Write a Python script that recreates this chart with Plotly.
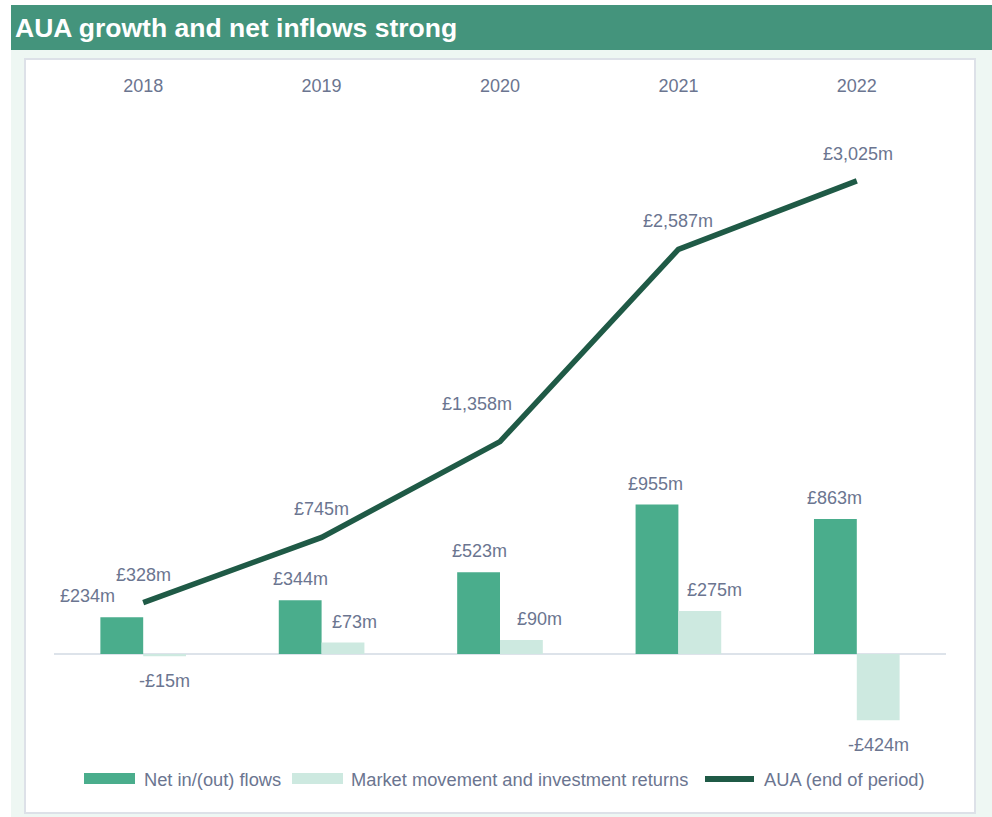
import plotly.graph_objects as go

# ---- data (£m) ----
years = ["2018", "2019", "2020", "2021", "2022"]
net_flows = [234, 344, 523, 955, 863]
market_movement = [-15, 73, 90, 275, -424]
aua_end = [328, 745, 1358, 2587, 3025]

series_names = ["Net in/(out) flows", "Market movement and investment returns", "AUA (end of period)"]

# ---- styling ----
C_NET = "#4aad8c"
C_MKT = "#cde9e0"
C_AUA = "#1f5a46"
C_TEXT = "#6b7590"
C_HEAD = "#44947c"
C_MINT = "#eef7f3"
C_BORDER = "#dde1e8"
FONT = "Liberation Sans, Arial, sans-serif"

W, H = 992, 817
PL, PR, PT, PB = 54, 946, 110, 750  # plot area in pixels
Y_MIN, Y_MAX = -614, 3478


def px_x(x):
    return (x - PL) / (PR - PL)


def px_y(y):
    return (PB - y) / (PB - PT)


def money(v):
    s = f"£{abs(v):,}m"
    return "-" + s if v < 0 else s


fig = go.Figure()
fig.add_bar(x=years, y=net_flows, name=series_names[0], marker=dict(color=C_NET, line_width=0))
fig.add_bar(x=years, y=market_movement, name=series_names[1], marker=dict(color=C_MKT, line_width=0))
fig.add_scatter(x=years, y=aua_end, name=series_names[2], mode="lines",
                line=dict(color=C_AUA, width=5.5))

annotations = []
BAR_OFF = 21.5  # half bar width: offset of each bar centre from its category

# annotations on a category axis are placed by category index
# net flow labels above the bars
net_dx = [-34.5, 0, 1, -1, -1]
for i, (v, dx) in enumerate(zip(net_flows, net_dx)):
    annotations.append(dict(x=i, y=v, text=money(v), showarrow=False,
                            xshift=-BAR_OFF + dx, yshift=21, yanchor="middle"))

# market movement labels: above positive bars, below negative ones
mkt_dx = [0, 11, 18, 15, 0]
for i, (v, dx) in enumerate(zip(market_movement, mkt_dx)):
    annotations.append(dict(x=i, y=v, text=money(v), showarrow=False,
                            xshift=BAR_OFF + dx, yshift=21 if v > 0 else -25,
                            yanchor="middle"))

# AUA labels above the line points
aua_dx = [0, 0, -23, 0, 1]
aua_dy = [28, 28, 38, 28, 27]
for i, (v, dx, dy) in enumerate(zip(aua_end, aua_dx, aua_dy)):
    annotations.append(dict(x=i, y=v, text=money(v), showarrow=False,
                            xshift=dx, yshift=dy, yanchor="middle"))

for a in annotations:
    a["font"] = dict(family=FONT, size=18, color=C_TEXT)

# heading
annotations.append(dict(xref="paper", yref="paper", x=px_x(13), y=px_y(28),
                        xanchor="left", yanchor="middle", showarrow=False,
                        text="<b>AUA growth and net inflows strong</b>",
                        font=dict(family=FONT, size=26.5, color="white")))

# custom legend
LEG_Y = 779
legend_items = [
    (84, 135, 142, "rect", C_NET, series_names[0]),
    (292, 343, 349, "rect", C_MKT, series_names[1]),
    (702, 757, 762, "line", C_AUA, series_names[2]),
]

shapes = [
    # page panels
    dict(type="rect", xref="paper", yref="paper", x0=px_x(11), x1=px_x(W), y0=px_y(H), y1=px_y(50),
         fillcolor=C_MINT, line_width=0, layer="below"),
    dict(type="rect", xref="paper", yref="paper", x0=px_x(11), x1=px_x(W), y0=px_y(50), y1=px_y(5),
         fillcolor=C_HEAD, line_width=0, layer="below"),
    dict(type="rect", xref="paper", yref="paper", x0=px_x(25), x1=px_x(975), y0=px_y(813), y1=px_y(59),
         fillcolor="white", line=dict(color=C_BORDER, width=2), layer="below"),
]

for x0, x1, tx, kind, col, label in legend_items:
    if kind == "rect":
        shapes.append(dict(type="rect", xref="paper", yref="paper", x0=px_x(x0), x1=px_x(x1),
                           y0=px_y(LEG_Y + 5), y1=px_y(LEG_Y - 6), fillcolor=col, line_width=0))
    else:
        shapes.append(dict(type="line", xref="paper", yref="paper", x0=px_x(x0 + 3), x1=px_x(x1 - 3),
                           y0=px_y(LEG_Y), y1=px_y(LEG_Y), line=dict(color=col, width=6)))
    annotations.append(dict(xref="paper", yref="paper", x=px_x(tx), y=px_y(LEG_Y),
                            xanchor="left", yanchor="middle", showarrow=False, text=label,
                            font=dict(family=FONT, size=18.3, color=C_TEXT)))

fig.update_layout(
    width=W, height=H,
    margin=dict(l=PL, r=W - PR, t=PT, b=H - PB, pad=0),
    paper_bgcolor="white", plot_bgcolor="rgba(0,0,0,0)",
    barmode="group", bargap=0.52, bargroupgap=0,
    showlegend=False,
    font=dict(family=FONT, size=18, color=C_TEXT),
    annotations=annotations, shapes=shapes,
    xaxis=dict(type="category", range=[-0.5, len(years) - 0.5], side="top",
               showgrid=False, showline=False, ticks="",
               tickfont=dict(family=FONT, size=18, color=C_TEXT), ticklabelstandoff=13),
    yaxis=dict(range=[Y_MIN, Y_MAX], showgrid=False, showticklabels=False, ticks="",
               zeroline=True, zerolinecolor="#dde3ea", zerolinewidth=2),
)

fig.write_html("out.html")
